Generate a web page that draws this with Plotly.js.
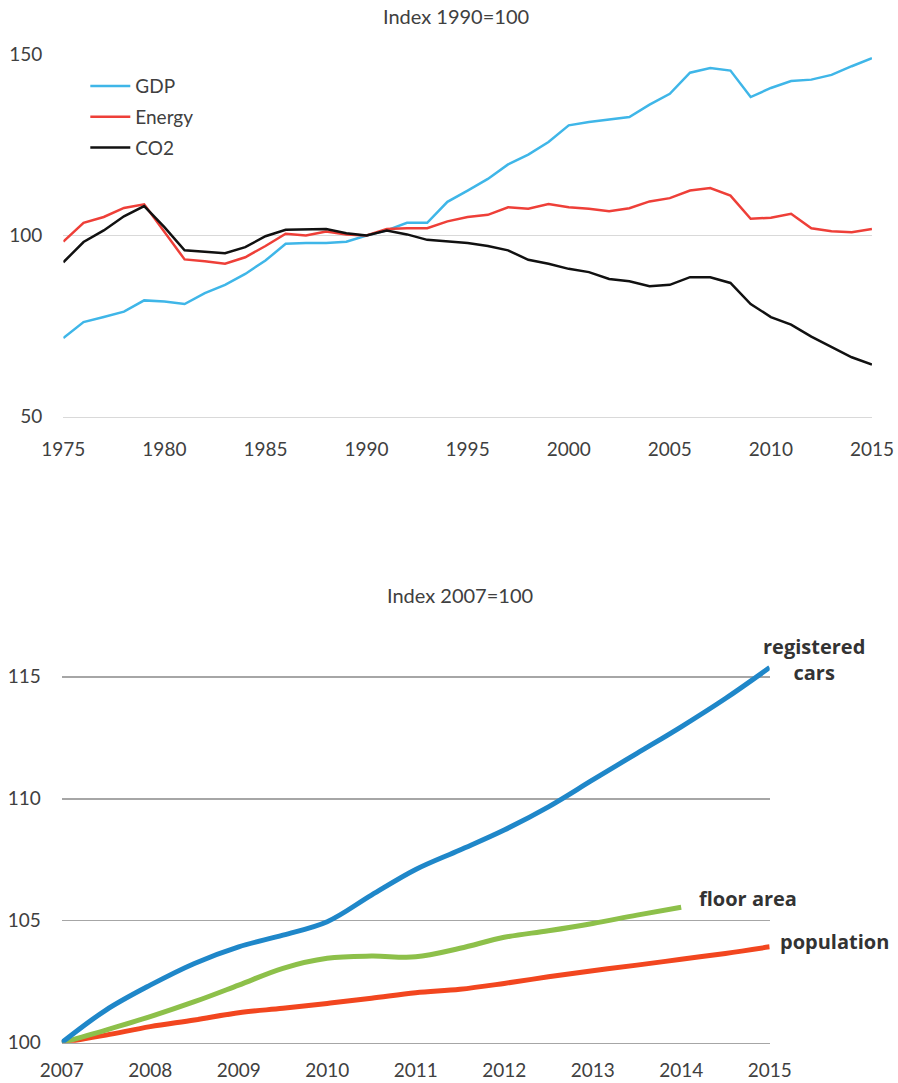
<!DOCTYPE html>
<html>
<head>
<meta charset="utf-8">
<script src="https://cdn.plot.ly/plotly-3.0.1.min.js"></script>
<style>html,body{margin:0;padding:0;background:#fff;}</style>
</head>
<body>
<div id="chart" style="width:898px;height:1083px;"></div>
<script>
// ---- Top chart: Index 1990=100 ----
const years = [1975,1976,1977,1978,1979,1980,1981,1982,1983,1984,1985,1986,1987,1988,1989,1990,1991,1992,1993,1994,1995,1996,1997,1998,1999,2000,2001,2002,2003,2004,2005,2006,2007,2008,2009,2010,2011,2012,2013,2014,2015];
const gdp = [71.7,76.1,77.5,79.0,82.1,81.8,81.1,84.1,86.4,89.4,93.1,97.7,97.9,97.9,98.3,100,101.4,103.5,103.5,109.3,112.4,115.6,119.6,122.3,125.8,130.4,131.3,131.9,132.7,136.1,139.1,144.9,146.2,145.5,138.2,140.7,142.6,143.0,144.3,146.7,148.9];
const energy = [98.3,103.5,105.1,107.6,108.6,100.9,93.4,92.9,92.2,94.0,97.1,100.5,100.0,101.1,100.3,100,101.8,102.0,102.0,103.9,105.1,105.7,107.8,107.4,108.7,107.8,107.4,106.7,107.5,109.4,110.3,112.4,113.1,111.0,104.6,104.9,106.0,102.0,101.2,100.9,101.8];
const co2 = [92.6,98.2,101.4,105.3,108.1,102.3,95.9,95.6,95.1,96.8,99.8,101.6,101.6,101.8,100.6,100,101.4,100.3,98.8,98.4,97.9,97.1,95.9,93.3,92.2,90.8,89.9,88.0,87.4,86.0,86.4,88.5,88.5,86.9,81.1,77.5,75.4,72.1,69.2,66.4,64.4];
const topTicks = [1975,1980,1985,1990,1995,2000,2005,2010,2015];

// ---- Bottom chart: Index 2007=100 ----
const t = [2007,2007.5,2008,2008.5,2009,2009.5,2010,2010.5,2011,2011.5,2012,2012.5,2013,2013.5,2014,2014.5,2015];
const cars = [100,101.34,102.36,103.25,103.93,104.41,104.96,106.05,107.10,107.90,108.72,109.67,110.77,111.86,112.95,114.11,115.38];
const tFloor = [2007,2007.5,2008,2008.5,2009,2009.5,2010,2010.5,2011,2011.5,2012,2012.5,2013,2013.5,2014];
const floorArea = [100,100.52,101.07,101.68,102.36,103.05,103.46,103.55,103.52,103.87,104.32,104.59,104.89,105.23,105.55];
const population = [100,100.31,100.66,100.93,101.23,101.41,101.61,101.82,102.05,102.19,102.43,102.70,102.95,103.18,103.42,103.66,103.93];
const bottomTicks = [2007,2008,2009,2010,2011,2012,2013,2014,2015];

const FONT = 'Lato, "Open Sans", sans-serif';
const TXT = '#404040';
const LBL = {family: '"Open Sans", Lato, sans-serif', size: 20, color: '#333333'};

const traces = [
  {x: years, y: gdp, name: 'GDP', type: 'scatter', mode: 'lines', line: {color: '#3fb6e8', width: 2.5}, xaxis: 'x', yaxis: 'y', legendgroup: 'a'},
  {x: years, y: energy, name: 'Energy', type: 'scatter', mode: 'lines', line: {color: '#ee3f38', width: 2.5}, xaxis: 'x', yaxis: 'y', legendgroup: 'b'},
  {x: years, y: co2, name: 'CO2', type: 'scatter', mode: 'lines', line: {color: '#111111', width: 2.5}, xaxis: 'x', yaxis: 'y', legendgroup: 'c'},
  {x: t, y: population, name: 'population', type: 'scatter', mode: 'lines', line: {color: '#f2461f', width: 5, shape: 'spline'}, xaxis: 'x2', yaxis: 'y2', showlegend: false},
  {x: tFloor, y: floorArea, name: 'floor area', type: 'scatter', mode: 'lines', line: {color: '#8dc04a', width: 5, shape: 'spline'}, xaxis: 'x2', yaxis: 'y2', showlegend: false},
  {x: t, y: cars, name: 'registered cars', type: 'scatter', mode: 'lines', line: {color: '#1f87c9', width: 5, shape: 'spline'}, xaxis: 'x2', yaxis: 'y2', showlegend: false}
];

const layout = {
  width: 898, height: 1083,
  margin: {l: 0, r: 0, t: 0, b: 0},
  paper_bgcolor: '#ffffff', plot_bgcolor: '#ffffff',
  font: {family: FONT, size: 19, color: TXT},
  showlegend: true,
  legend: {x: 0.095, y: 0.938, xanchor: 'left', yanchor: 'top', itemwidth: 40, font: {size: 19, color: TXT}, tracegroupgap: 3, bgcolor: 'rgba(0,0,0,0)'},
  xaxis: {domain: [0.0705, 0.971], range: [1975, 2015], tickvals: topTicks, showgrid: false, zeroline: false, showline: true, linecolor: '#d9d9d9', linewidth: 1.5, ticks: '', ticklabelstandoff: 15, anchor: 'y', automargin: false},
  yaxis: {domain: [0.6152, 0.9499], range: [50, 150], tickvals: [50, 100, 150], showgrid: true, gridcolor: '#d9d9d9', gridwidth: 1.5, zeroline: false, showline: false, ticks: '', ticklabelstandoff: 20, anchor: 'x', automargin: false},
  xaxis2: {domain: [0.0687, 0.8571], range: [2007, 2015], tickvals: bottomTicks, showgrid: false, zeroline: false, showline: true, linecolor: '#a6a6a6', linewidth: 1.5, ticks: '', ticklabelstandoff: 10, anchor: 'y2', automargin: false},
  yaxis2: {domain: [0.0372, 0.3886], range: [100, 115.6], tickvals: [100, 105, 110, 115], showgrid: true, gridcolor: '#a6a6a6', gridwidth: 1.5, zeroline: false, showline: false, ticks: '', ticklabelstandoff: 20, anchor: 'x2', automargin: false},
  annotations: [
    {text: 'Index 1990=100', xref: 'paper', yref: 'paper', x: 456/898, y: 1 - 16/1083, xanchor: 'center', yanchor: 'middle', showarrow: false, font: {size: 20, color: TXT}},
    {text: 'Index 2007=100', xref: 'paper', yref: 'paper', x: 460/898, y: 1 - 595/1083, xanchor: 'center', yanchor: 'middle', showarrow: false, font: {size: 20, color: TXT}},
    {text: '<b>registered</b><br><b>cars</b>', xref: 'x2', yref: 'y2', x: t[t.length-1], y: cars[cars.length-1], xanchor: 'center', yanchor: 'middle', xshift: 44, yshift: 8, showarrow: false, font: LBL},
    {text: '<b>floor area</b>', xref: 'x2', yref: 'y2', x: tFloor[tFloor.length-1], y: floorArea[floorArea.length-1], xanchor: 'left', yanchor: 'middle', xshift: 16, yshift: 9, showarrow: false, font: LBL},
    {text: '<b>population</b>', xref: 'x2', yref: 'y2', x: t[t.length-1], y: population[population.length-1], xanchor: 'left', yanchor: 'middle', xshift: 8, yshift: 5, showarrow: false, font: LBL}
  ]
};

Plotly.newPlot('chart', traces, layout, {staticPlot: true, displayModeBar: false});
</script>
</body>
</html>
